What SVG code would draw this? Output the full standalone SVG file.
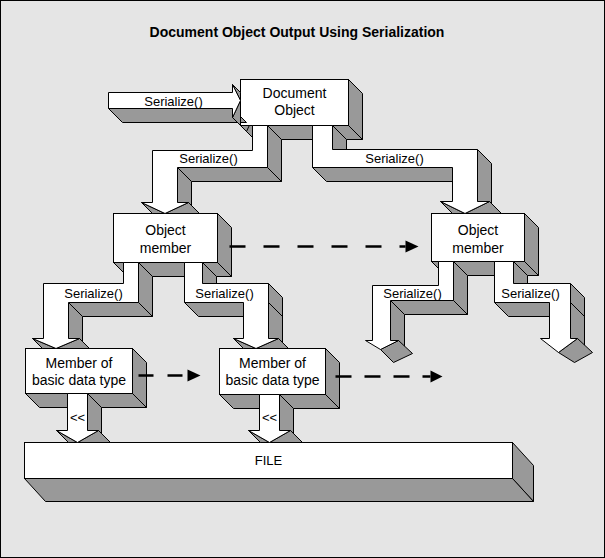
<svg xmlns="http://www.w3.org/2000/svg" width="605" height="558" viewBox="0 0 605 558">
<style>
.f{fill:#fff;stroke:#000;stroke-width:1}
.s{fill:#999;stroke:#000;stroke-width:1}
text{font-family:"Liberation Sans",Arial,sans-serif;fill:#000}
.lbl{font-size:13px;text-anchor:middle}
.nt{font-size:14px;text-anchor:middle}
.title{font-size:14px;font-weight:bold;text-anchor:middle}
.dash{stroke:#000;stroke-width:2.5;fill:none}
.ah{fill:#000;stroke:none}
</style>
<rect x="0.5" y="0.5" width="604" height="557" fill="#e5e5e5" stroke="#000"/>
<text class="title" x="297" y="37">Document Object Output Using Serialization</text>
<g transform="translate(0.5,0.5)">
<g id="nodes">
<g id="doc-object">
<polygon class="s" points="348,79 362,93 362,139 348,125"/>
<polygon class="s" points="240,125 348,125 362,139 254,139"/>
<rect class="f" x="240" y="79" width="108" height="46"/>
<text class="nt" x="294" y="97">Document</text>
<text class="nt" x="294" y="114">Object</text>
</g>
<g id="object-member-left">
<polygon class="s" points="217,213 231,227 231,276 217,262"/>
<polygon class="s" points="113,262 217,262 231,276 127,276"/>
<rect class="f" x="113" y="213" width="104" height="49"/>
<text class="nt" x="165" y="234">Object</text>
<text class="nt" x="165" y="252">member</text>
</g>
<g id="object-member-right">
<polygon class="s" points="524,213 538,227 538,275 524,261"/>
<polygon class="s" points="431,261 524,261 538,275 445,275"/>
<rect class="f" x="431" y="213" width="93" height="48"/>
<text class="nt" x="477.5" y="234">Object</text>
<text class="nt" x="477.5" y="252">member</text>
</g>
<g id="basic-left">
<polygon class="s" points="132,348 146,362 146,407 132,393"/>
<polygon class="s" points="25,393 132,393 146,407 39,407"/>
<rect class="f" x="25" y="348" width="107" height="45"/>
<text class="nt" x="78.5" y="367">Member of</text>
<text class="nt" x="78.5" y="384">basic data type</text>
</g>
<g id="basic-right">
<polygon class="s" points="325,348 339,362 339,408 325,394"/>
<polygon class="s" points="219,394 325,394 339,408 233,408"/>
<rect class="f" x="219" y="348" width="106" height="46"/>
<text class="nt" x="272" y="367">Member of</text>
<text class="nt" x="272" y="384">basic data type</text>
</g>
<g id="file">
<polygon class="s" points="512,442 533,465 533,501 512,478"/>
<polygon class="s" points="24,478 512,478 533,501 45,501"/>
<rect class="f" x="24" y="442" width="488" height="36"/>
<text class="lbl" x="268" y="464">FILE</text>
</g>
</g>
<g id="connectors">
<g id="input-arrow">
<polygon class="s" points="232,108 108,108 122,122 246,122"/>
<polygon class="s" points="232,84 240,100 240,92"/>
<polygon class="s" points="240,100 232,117 246,131 248.8,125 240,125"/>
<polygon class="f" points="108,92 232,92 232,84 240,100 232,117 232,108 108,108"/>
<text class="lbl" x="173" y="105">Serialize()</text>
</g>
<g id="pipe-doc-left">
<polygon class="s" points="267,125 267,167 281,181 281,139"/>
<polygon class="s" points="267,167 177,167 191,181 281,181"/>
<polygon class="s" points="177,167 177,202 188,213 191,213 191,181"/>
<polygon class="s" points="188,202 164.5,213 199,213"/>
<polygon class="s" points="164.5,213 141,202 152,213"/>
<polygon class="f" points="252,125 267,125 267,167 177,167 177,202 188,202 164.5,213 141,202 152,202 152,150 252,150"/>
<text class="lbl" x="208" y="162">Serialize()</text>
</g>
<g id="pipe-doc-right">
<polygon class="s" points="332,125 332,149 346,163 346,139"/>
<polygon class="s" points="452,167 312,167 326,181 466,181"/>
<polygon class="s" points="477,149 477,201 489,213 491,213 491,163"/>
<polygon class="s" points="489,201 464.5,213 501,213"/>
<polygon class="s" points="464.5,213 440,201 452,213"/>
<polygon class="f" points="312,125 332,125 332,149 477,149 477,201 489,201 464.5,213 440,201 452,201 452,167 312,167"/>
<text class="lbl" x="394" y="162">Serialize()</text>
</g>
<g id="pipe-om-left-a">
<polygon class="s" points="138,262 138,302 152,316 152,276"/>
<polygon class="s" points="138,302 68,302 82,316 152,316"/>
<polygon class="s" points="68,302 68,338 78,348 82,348 82,316"/>
<polygon class="s" points="79,338 55.5,348 89,348"/>
<polygon class="s" points="55.5,348 32,338 42,348"/>
<polygon class="f" points="123,262 138,262 138,302 68,302 68,338 79,338 55.5,348 32,338 43,338 43,283 123,283"/>
<text class="lbl" x="93" y="297">Serialize()</text>
</g>
<g id="pipe-om-left-b">
<polygon class="s" points="202,262 202,283 216,297 216,276"/>
<polygon class="s" points="243,302 184,302 198,316 257,316"/>
<polygon class="s" points="268,283 268,338 278,348 282,348 282,297"/>
<line x1="268" y1="302" x2="282" y2="316" stroke="#000"/>
<polygon class="s" points="278,338 255.5,348 288,348"/>
<polygon class="s" points="255.5,348 233,338 243,348"/>
<polygon class="f" points="184,262 202,262 202,283 268,283 268,338 278,338 255.5,348 233,338 243,338 243,302 184,302"/>
<text class="lbl" x="224" y="297">Serialize()</text>
</g>
<g id="pipe-om-right-a">
<polygon class="s" points="453,261 453,300 467,314 467,275"/>
<polygon class="s" points="453,300 390,300 404,314 467,314"/>
<polygon class="s" points="390,300 390,340 404,354 404,314"/>
<polygon class="s" points="380,349 398,340 412,353 393,362"/>
<polygon class="f" points="438,261 453,261 453,300 390,300 390,340 398,340 380,349 365,340 372,340 372,285 438,285"/>
<text class="lbl" x="412" y="297">Serialize()</text>
</g>
<g id="pipe-om-right-b">
<polygon class="s" points="513,261 513,283 527,297 527,275"/>
<polygon class="s" points="549,302 494,302 508,316 563,316"/>
<polygon class="s" points="570,283 570,338 584,352 584,297"/>
<line x1="570" y1="302" x2="584" y2="316" stroke="#000"/>
<polygon class="s" points="558,352 577,338 592,352 574,362"/>
<polygon class="f" points="494,261 513,261 513,283 570,283 570,338 577,338 558,352 540,338 549,338 549,302 494,302"/>
<text class="lbl" x="530" y="297">Serialize()</text>
</g>
<g id="pipe-basic-left">
<polygon class="s" points="87,393 87,430 99,442 101,442 101,407"/>
<polygon class="s" points="98,430 77,442 110,442"/>
<polygon class="s" points="77,442 56,430 68,442"/>
<polygon class="f" points="67,393 87,393 87,430 98,430 77,442 56,430 67,430"/>
<text class="lbl" x="77" y="421">&lt;&lt;</text>
</g>
<g id="pipe-basic-right">
<polygon class="s" points="279,394 279,430 291,442 293,442 293,408"/>
<polygon class="s" points="290,430 269,442 302,442"/>
<polygon class="s" points="269,442 248,430 260,442"/>
<polygon class="f" points="259,394 279,394 279,430 290,430 269,442 248,430 259,430"/>
<text class="lbl" x="269" y="421">&lt;&lt;</text>
</g>
<g id="dashed-arrows">
<line class="dash" x1="229" y1="246" x2="405" y2="246" stroke-dasharray="16 18"/>
<polygon class="ah" points="405,240 418,246 405,252"/>
<line class="dash" x1="138" y1="375" x2="183" y2="375" stroke-dasharray="15 14"/>
<polygon class="ah" points="187,369 200,375 187,381"/>
<line class="dash" x1="335" y1="376" x2="430" y2="376" stroke-dasharray="16 13"/>
<polygon class="ah" points="430,370 442,376 430,382"/>
</g>
</g>
</g>
</svg>
